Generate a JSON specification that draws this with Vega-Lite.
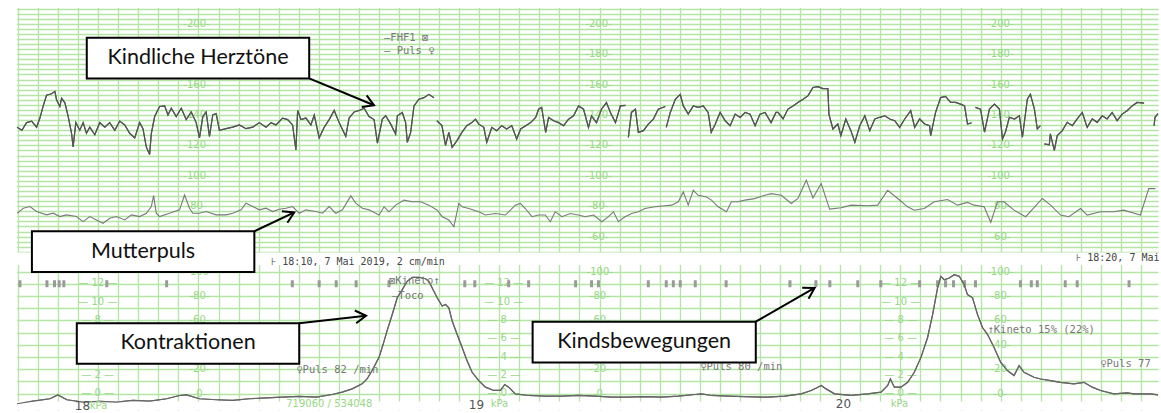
{
"$schema": "https://vega.github.io/schema/vega-lite/v6.json",
"width": 1161, "height": 413, "padding": 0,
"autosize": {"type": "fit", "contains": "padding"},
"background": "#ffffff",
"config": {"view": {"stroke": null}, "axis": {"labels": false, "ticks": false, "domain": false, "grid": true, "gridColor": "#b3e6a5", "gridWidth": 1.3, "gridOpacity": 1, "minExtent": 0, "maxExtent": 0}},
"datasets": {
"fhr": [{"t":12.8,"v":132},{"t":16.5,"v":130},{"t":20,"v":135},{"t":23.8,"v":136},{"t":27.5,"v":132},{"t":30,"v":138},{"t":32.5,"v":146},{"t":35,"v":153},{"t":38.8,"v":154},{"t":41.3,"v":155.5},{"t":42.5,"v":150},{"t":45,"v":145.6},{"t":46.3,"v":151},{"t":48.8,"v":148},{"t":51.3,"v":139},{"t":53.8,"v":128},{"t":55,"v":119},{"t":57,"v":135},{"t":60,"v":130},{"t":62.5,"v":135},{"t":65,"v":128},{"t":67.5,"v":132},{"t":71.3,"v":127},{"t":75,"v":135},{"t":78.8,"v":132},{"t":82.5,"v":135},{"t":86.3,"v":130},{"t":90,"v":136},{"t":93.8,"v":133.5},{"t":97.5,"v":128},{"t":101.3,"v":125},{"t":105,"v":135},{"t":107.5,"v":131},{"t":110,"v":119},{"t":112.5,"v":114},{"t":113.8,"v":128},{"t":116.3,"v":139},{"t":120,"v":145.6},{"t":123.8,"v":146},{"t":126.3,"v":140},{"t":128.8,"v":144.5},{"t":132.5,"v":139},{"t":136.3,"v":144.5},{"t":140,"v":137},{"t":143.8,"v":142},{"t":147.5,"v":135},{"t":150,"v":125},{"t":152.5,"v":139},{"t":155,"v":142},{"t":157.5,"v":126},{"t":160,"v":140},{"t":162.5,"v":141},{"t":165,"v":130},{"t":170,"v":131},{"t":175,"v":132},{"t":180,"v":133.5},{"t":185,"v":131},{"t":190,"v":132},{"t":195,"v":135},{"t":200,"v":132},{"t":203.8,"v":135},{"t":207.5,"v":133.5},{"t":212.5,"v":138},{"t":216.3,"v":137},{"t":220,"v":133.5},{"t":222.5,"v":117},{"t":223.8,"v":143},{"t":226.3,"v":137},{"t":230,"v":138},{"t":233.8,"v":133.5},{"t":236.3,"v":140},{"t":240,"v":125},{"t":243.8,"v":132},{"t":247.5,"v":137},{"t":251.3,"v":143},{"t":255,"v":135},{"t":260,"v":126},{"t":262.5,"v":138},{"t":266.3,"v":142},{"t":270,"v":143},{"t":273.8,"v":144.5},{"t":277.5,"v":139},{"t":281.3,"v":137},{"t":283.8,"v":121.5},{"t":287.5,"v":137.3},{"t":290,"v":139.5},{"t":293.8,"v":134},{"t":297.5,"v":127.5},{"t":298.8,"v":139.5},{"t":302.5,"v":141.7},{"t":305,"v":135},{"t":306.3,"v":122},{"t":308.8,"v":128.6},{"t":311.3,"v":146},{"t":315,"v":150.4},{"t":318.8,"v":151.4},{"t":322.5,"v":153.6},{"t":326.3,"v":151.4},{"t":327,"v":null},{"t":328.5,"v":136.2},{"t":332.3,"v":133},{"t":335,"v":120},{"t":337.5,"v":128.6},{"t":340,"v":118.8},{"t":343.5,"v":123},{"t":347.3,"v":128.6},{"t":351,"v":133},{"t":354.8,"v":135},{"t":357.5,"v":137.3},{"t":360,"v":134},{"t":363.8,"v":131.9},{"t":366,"v":122},{"t":369.8,"v":131.9},{"t":373.5,"v":129.7},{"t":377.3,"v":133},{"t":381,"v":130.8},{"t":384.8,"v":133},{"t":388.5,"v":124.2},{"t":391.5,"v":130.8},{"t":395.3,"v":133},{"t":399,"v":135},{"t":402.8,"v":138.4},{"t":405,"v":143.8},{"t":407.3,"v":145},{"t":410.3,"v":128.6},{"t":412.5,"v":138.4},{"t":416.3,"v":136.2},{"t":420,"v":135},{"t":423.8,"v":133},{"t":427.5,"v":137.3},{"t":431.3,"v":139.5},{"t":435,"v":146},{"t":438.8,"v":143.8},{"t":442.5,"v":131.9},{"t":444.8,"v":139.5},{"t":448.5,"v":135},{"t":452.3,"v":143.8},{"t":456,"v":148.2},{"t":459,"v":141.7},{"t":462.8,"v":135},{"t":466.5,"v":146},{"t":470.3,"v":146.4},{"t":471.4,"v":null},{"t":472.5,"v":125.3},{"t":474.8,"v":141.7},{"t":477.8,"v":143.8},{"t":480,"v":128.6},{"t":483.8,"v":129.7},{"t":487.5,"v":134},{"t":491.3,"v":137.3},{"t":495,"v":143.8},{"t":500.3,"v":145.6},{"t":500.6,"v":null},{"t":501,"v":131.9},{"t":504,"v":141.7},{"t":507.8,"v":150.4},{"t":511.5,"v":153.6},{"t":513.8,"v":146},{"t":517.5,"v":140.6},{"t":521.3,"v":146},{"t":525,"v":145},{"t":528.8,"v":146},{"t":532.5,"v":141.7},{"t":534.8,"v":128.6},{"t":537.8,"v":134},{"t":541.5,"v":141.7},{"t":545.3,"v":136.2},{"t":549,"v":133},{"t":552.8,"v":140.6},{"t":556.5,"v":138.4},{"t":560.3,"v":141.7},{"t":564,"v":140.6},{"t":567.8,"v":133},{"t":571.5,"v":140.6},{"t":575.3,"v":141.7},{"t":579.8,"v":135},{"t":583.5,"v":141.7},{"t":585,"v":141.7},{"t":588.8,"v":137.4},{"t":592.5,"v":143.9},{"t":596.3,"v":146},{"t":600,"v":148.3},{"t":603.8,"v":150.4},{"t":607.5,"v":152.6},{"t":611.3,"v":158.1},{"t":615,"v":158.7},{"t":618.8,"v":157.4},{"t":622.5,"v":157.4},{"t":623.3,"v":140.6},{"t":626.3,"v":130.8},{"t":630,"v":134.1},{"t":632.3,"v":126.5},{"t":636,"v":137.4},{"t":639.8,"v":129.7},{"t":642.8,"v":122.1},{"t":646.5,"v":133},{"t":650.3,"v":139.5},{"t":654,"v":129.7},{"t":657.8,"v":137.4},{"t":661.5,"v":138.5},{"t":665.3,"v":139.5},{"t":669,"v":137.4},{"t":672.8,"v":136.3},{"t":676.5,"v":131.9},{"t":680.3,"v":137.4},{"t":684.8,"v":142.8},{"t":687.8,"v":131.9},{"t":691.5,"v":137.4},{"t":695.3,"v":134.1},{"t":699,"v":133},{"t":699.8,"v":126.5},{"t":703.5,"v":141.7},{"t":707.3,"v":151.5},{"t":711,"v":152.2},{"t":714.8,"v":148.3},{"t":718.5,"v":148.3},{"t":722.3,"v":147.2},{"t":725.3,"v":146},{"t":727.5,"v":134.1},{"t":730.5,"v":134.8},{"t":732,"v":null},{"t":733.5,"v":145},{"t":737.3,"v":143.9},{"t":740.3,"v":128.7},{"t":744,"v":143.9},{"t":747.8,"v":147.2},{"t":751.5,"v":143.9},{"t":753.8,"v":124.3},{"t":756,"v":128.7},{"t":759,"v":138.5},{"t":762.8,"v":137.4},{"t":766.5,"v":139.5},{"t":768.8,"v":125.4},{"t":772.5,"v":150.4},{"t":774.8,"v":153.7},{"t":777.8,"v":143.9},{"t":780,"v":130.8},{"t":782.3,"v":133},{"t":783.8,"v":null},{"t":785.3,"v":121},{"t":789,"v":120.4},{"t":789.8,"v":127.6},{"t":792.8,"v":116.7},{"t":795,"v":126.5},{"t":798.8,"v":129.7},{"t":802.5,"v":135.2},{"t":806.3,"v":133},{"t":810,"v":137.4},{"t":813.8,"v":141.7},{"t":817.5,"v":131.9},{"t":821.3,"v":137.4},{"t":825,"v":135.2},{"t":828.8,"v":139.5},{"t":832.5,"v":137.4},{"t":836.3,"v":141.7},{"t":840,"v":136.3},{"t":843.8,"v":140.6},{"t":847.5,"v":142.8},{"t":851.3,"v":146},{"t":855,"v":148.3},{"t":860.3,"v":147.8},{"t":864,"v":null},{"t":867.8,"v":133},{"t":868.5,"v":138.5},{"t":870.75,"v":141}],
"puls": [{"t":13,"v":75.4},{"t":17.5,"v":78.7},{"t":22.5,"v":79.8},{"t":27.5,"v":76.5},{"t":35,"v":74.3},{"t":40,"v":75.4},{"t":45,"v":73.2},{"t":50,"v":74.3},{"t":57.5,"v":73.2},{"t":62.5,"v":69.9},{"t":67.5,"v":73.2},{"t":72.5,"v":71},{"t":77.5,"v":68.8},{"t":82.5,"v":72.1},{"t":87.5,"v":73.2},{"t":93.8,"v":71},{"t":98.8,"v":74.3},{"t":105,"v":73.2},{"t":110,"v":75.4},{"t":113.8,"v":79.8},{"t":115.5,"v":87},{"t":117.5,"v":75.4},{"t":120,"v":73.2},{"t":127.5,"v":75.4},{"t":135,"v":77.6},{"t":138.8,"v":87.4},{"t":142.5,"v":78.7},{"t":145,"v":75.4},{"t":150,"v":75.4},{"t":155,"v":76.5},{"t":162.5,"v":74.3},{"t":170,"v":74.3},{"t":175,"v":75.4},{"t":181.3,"v":77.6},{"t":185,"v":82},{"t":190,"v":79.8},{"t":195,"v":77.6},{"t":200,"v":78.7},{"t":205,"v":76.5},{"t":210,"v":78},{"t":215,"v":78.7},{"t":220,"v":79.8},{"t":225,"v":75.4},{"t":230,"v":77.6},{"t":237.5,"v":76.5},{"t":242.5,"v":75.4},{"t":247.5,"v":79.8},{"t":252.5,"v":75.4},{"t":257.5,"v":77.6},{"t":263.8,"v":86.8},{"t":267.5,"v":82},{"t":272.5,"v":78.7},{"t":277.5,"v":77.6},{"t":285,"v":74.2},{"t":288.8,"v":79.6},{"t":292.5,"v":76.3},{"t":297.5,"v":80.7},{"t":303.8,"v":84},{"t":310,"v":82.9},{"t":316.3,"v":82.9},{"t":322.5,"v":80.7},{"t":328.8,"v":77.4},{"t":332.5,"v":73.1},{"t":337.5,"v":70.9},{"t":341.3,"v":66.5},{"t":345,"v":81.8},{"t":347.5,"v":79.6},{"t":352.5,"v":78.5},{"t":360,"v":76.3},{"t":365,"v":74.2},{"t":372.5,"v":75.2},{"t":380,"v":74.2},{"t":387.5,"v":80.7},{"t":391.3,"v":81.8},{"t":395,"v":78.5},{"t":400,"v":73.1},{"t":405,"v":74.2},{"t":410,"v":74.2},{"t":413.8,"v":69.8},{"t":417.5,"v":76.3},{"t":422.5,"v":73.1},{"t":428.8,"v":75.2},{"t":435,"v":74.2},{"t":440,"v":73.1},{"t":446.3,"v":74.2},{"t":452.5,"v":69.8},{"t":457.5,"v":73.1},{"t":461.3,"v":76.3},{"t":465,"v":69.8},{"t":470,"v":73.1},{"t":475,"v":75.2},{"t":480,"v":76.3},{"t":485,"v":78.5},{"t":492.5,"v":79.6},{"t":500,"v":80.3},{"t":505,"v":80.7},{"t":510,"v":82.9},{"t":513.8,"v":89.4},{"t":517.5,"v":80.7},{"t":521.3,"v":90.5},{"t":525,"v":87.2},{"t":531.3,"v":86.1},{"t":535,"v":84},{"t":540,"v":79.6},{"t":546.3,"v":76.3},{"t":550,"v":82.9},{"t":555,"v":82.9},{"t":560,"v":84},{"t":567.5,"v":85},{"t":575,"v":87.2},{"t":580,"v":88.3},{"t":587.5,"v":87.2},{"t":595,"v":81.8},{"t":600,"v":85.1},{"t":606.3,"v":97.1},{"t":611.3,"v":85.5},{"t":617.5,"v":94.9},{"t":623.8,"v":78.1},{"t":632.5,"v":79},{"t":640,"v":80.7},{"t":652.5,"v":80.3},{"t":660,"v":80.7},{"t":667.5,"v":90.5},{"t":675,"v":85.1},{"t":682.5,"v":79.6},{"t":687.5,"v":77.4},{"t":695,"v":78.5},{"t":702.5,"v":82.9},{"t":712.5,"v":84.4},{"t":720,"v":80.7},{"t":727.5,"v":82.5},{"t":732.5,"v":80.7},{"t":740,"v":79.6},{"t":745,"v":69.4},{"t":750,"v":82.9},{"t":755,"v":82.9},{"t":762.5,"v":77.4},{"t":771.3,"v":73.1},{"t":777.5,"v":79},{"t":783.8,"v":85.1},{"t":790,"v":80.7},{"t":797.5,"v":74.2},{"t":803.8,"v":73.1},{"t":812.5,"v":78.5},{"t":817.5,"v":74.2},{"t":827.5,"v":76.4},{"t":837.5,"v":76.4},{"t":845,"v":77.4},{"t":857.5,"v":74.2},{"t":863.8,"v":91.6},{"t":868.8,"v":91.6}],
"toco": [{"t":12.8,"v":-8.3},{"t":24.8,"v":-6.1},{"t":37.5,"v":-4.2},{"t":43.5,"v":-1},{"t":50.3,"v":-5},{"t":62.3,"v":-6.9},{"t":75,"v":-6.3},{"t":87.8,"v":-6.9},{"t":99.8,"v":-5.5},{"t":112.5,"v":-6.1},{"t":125.3,"v":-4.2},{"t":135,"v":-1.5},{"t":140.3,"v":-1},{"t":150,"v":-4.2},{"t":162.8,"v":-5},{"t":174.8,"v":-5.5},{"t":187.5,"v":-4.2},{"t":200.3,"v":-3.4},{"t":212.3,"v":-2.8},{"t":225,"v":-2.3},{"t":237.8,"v":-2.8},{"t":249.8,"v":-0.7},{"t":257.3,"v":1.2},{"t":264.8,"v":3.9},{"t":272.3,"v":8},{"t":276,"v":12},{"t":279.8,"v":18.9},{"t":285,"v":29.7},{"t":288,"v":40},{"t":291.2,"v":52},{"t":295,"v":65},{"t":298.7,"v":78.5},{"t":302.5,"v":85.2},{"t":306.2,"v":92},{"t":310,"v":95.3},{"t":315,"v":95.3},{"t":320,"v":94.1},{"t":322.5,"v":92},{"t":325,"v":86.6},{"t":328.7,"v":78.5},{"t":332.5,"v":71.7},{"t":335,"v":73},{"t":337.5,"v":70.3},{"t":340,"v":59.5},{"t":343.7,"v":48.6},{"t":347.5,"v":37.8},{"t":351.2,"v":27},{"t":355,"v":17.5},{"t":360,"v":10.7},{"t":365,"v":5.3},{"t":371.3,"v":2.6},{"t":376.3,"v":2.6},{"t":379.5,"v":7.5},{"t":382.5,"v":5.3},{"t":387.5,"v":-0.2},{"t":397.5,"v":-1.5},{"t":410,"v":-2},{"t":422.5,"v":-2},{"t":435,"v":-1.5},{"t":447.5,"v":-2},{"t":460,"v":-2.8},{"t":472.5,"v":-2.8},{"t":485,"v":-2.4},{"t":497.5,"v":-2.8},{"t":510,"v":-2},{"t":522.5,"v":-0.7},{"t":527.5,"v":-0.2},{"t":535,"v":-1.5},{"t":547.5,"v":-2},{"t":560,"v":-2.4},{"t":572.5,"v":-2.8},{"t":577.5,"v":-2.8},{"t":590,"v":-2},{"t":602.5,"v":-0.2},{"t":610,"v":2.6},{"t":615,"v":5.3},{"t":617.5,"v":6.7},{"t":621.2,"v":3.9},{"t":627.5,"v":-0.2},{"t":640,"v":-1.5},{"t":652.5,"v":-0.2},{"t":662.5,"v":1.2},{"t":667.5,"v":6.7},{"t":669.5,"v":12},{"t":672.5,"v":5.3},{"t":677.5,"v":5.3},{"t":682.5,"v":9.3},{"t":687.5,"v":17.5},{"t":692.5,"v":29.7},{"t":697.5,"v":46},{"t":701.3,"v":64.9},{"t":705,"v":86.6},{"t":707.5,"v":96.1},{"t":710,"v":93.3},{"t":713.8,"v":94.7},{"t":717.5,"v":97.4},{"t":721.3,"v":96.1},{"t":725,"v":89.3},{"t":727.5,"v":81.1},{"t":731.3,"v":78.5},{"t":735,"v":64.9},{"t":738.8,"v":54.1},{"t":742.5,"v":48.6},{"t":747.5,"v":37.8},{"t":752.5,"v":25.6},{"t":757.5,"v":18.9},{"t":762.5,"v":14.8},{"t":766.3,"v":22.9},{"t":770,"v":17.5},{"t":777.5,"v":13.4},{"t":782.5,"v":12},{"t":790,"v":10.7},{"t":797.5,"v":9.3},{"t":807.5,"v":8},{"t":815,"v":9.3},{"t":821.3,"v":5.3},{"t":827.5,"v":2.6},{"t":837.5,"v":-0.2},{"t":847.5,"v":0.7},{"t":852.5,"v":-0.2},{"t":865,"v":-0.2},{"t":870.75,"v":-1}],
"moves": [{"t":15},{"t":35.3},{"t":41},{"t":44.5},{"t":48},{"t":80.3},{"t":125.3},{"t":219.8},{"t":240},{"t":252.8},{"t":267.8},{"t":292.5},{"t":349.5},{"t":357},{"t":382.5},{"t":397.5},{"t":432.8},{"t":444.8},{"t":450},{"t":487.5},{"t":501},{"t":506.3},{"t":511.5},{"t":522.8},{"t":546},{"t":594},{"t":613.5},{"t":624},{"t":645},{"t":662.3},{"t":691.5},{"t":705},{"t":711},{"t":717},{"t":725.3},{"t":733.5},{"t":767.3},{"t":775.5},{"t":780},{"t":801},{"t":810},{"t":849}],
"spanAll": [{"t":0,"t2":870.75}],
"spanLead": [{"t":0,"t2":12.9}],
"fhrLab": [{"t":147.75,"v":200,"txt":"-200-"},{"t":147.75,"v":160,"txt":"-160-"},{"t":147.75,"v":140,"txt":"-140-"},{"t":147.75,"v":120,"txt":"-120-"},{"t":147.75,"v":100,"txt":"-100-"},{"t":147.75,"v":80,"txt":"-80-"},{"t":450,"v":200,"txt":"-200-"},{"t":450,"v":180,"txt":"-180-"},{"t":450,"v":160,"txt":"-160-"},{"t":450,"v":140,"txt":"-140-"},{"t":450,"v":120,"txt":"-120-"},{"t":450,"v":100,"txt":"-100-"},{"t":450,"v":80,"txt":"-80-"},{"t":450,"v":60,"txt":"-60-"},{"t":752.25,"v":200,"txt":"-200-"},{"t":752.25,"v":180,"txt":"-180-"},{"t":752.25,"v":160,"txt":"-160-"},{"t":752.25,"v":140,"txt":"-140-"},{"t":752.25,"v":120,"txt":"-120-"},{"t":752.25,"v":100,"txt":"-100-"},{"t":752.25,"v":80,"txt":"-80-"},{"t":752.25,"v":60,"txt":"-60-"}],
"tocoLab": [{"t":150,"v":100,"txt":"-100-"},{"t":150,"v":80,"txt":"-80-"},{"t":150,"v":60,"txt":"-60-"},{"t":150,"v":20,"txt":"-20-"},{"t":150,"v":0,"txt":"-0-"},{"t":451,"v":100,"txt":"-100-"},{"t":451,"v":80,"txt":"-80-"},{"t":451,"v":60,"txt":"-60-"},{"t":451,"v":20,"txt":"-20-"},{"t":451,"v":0,"txt":"-0-"},{"t":752.25,"v":100,"txt":"-100-"},{"t":752.25,"v":80,"txt":"-80-"},{"t":752.25,"v":60,"txt":"-60-"},{"t":752.25,"v":40,"txt":"-40-"},{"t":752.25,"v":20,"txt":"-20-"},{"t":752.25,"v":0,"txt":"-0-"}],
"kpaLab": [{"t":73.5,"v":12,"txt":"— 12 —"},{"t":73.5,"v":10,"txt":"— 10 —"},{"t":73.5,"v":8,"txt":"— 8 —"},{"t":73.5,"v":2,"txt":"— 2 —"},{"t":73.5,"v":0,"txt":"— 0 —"},{"t":378.75,"v":12,"txt":"— 12 —"},{"t":378.75,"v":10,"txt":"— 10 —"},{"t":378.75,"v":8,"txt":"— 8 —"},{"t":378.75,"v":6,"txt":"— 6 —"},{"t":378.75,"v":4,"txt":"— 4 —"},{"t":378.75,"v":2,"txt":"— 2 —"},{"t":378.75,"v":0,"txt":"— 0 —"},{"t":677.25,"v":12,"txt":"— 12 —"},{"t":677.25,"v":10,"txt":"— 10 —"},{"t":677.25,"v":8,"txt":"— 8 —"},{"t":677.25,"v":6,"txt":"— 6 —"},{"t":677.25,"v":4,"txt":"— 4 —"},{"t":677.25,"v":2,"txt":"— 2 —"},{"t":677.25,"v":0,"txt":"— 0 —"}],
"fhrNotes": [{"t":288.75,"v":191,"txt":"—FHF1 ⊠"},{"t":288.75,"v":182.4,"txt":"— Puls ♀"}],
"stamps": [{"t":204,"v":43.4,"txt":"⊦ 18:10, 7 Mai 2019, 2 cm/min"},{"t":809.25,"v":45.8,"txt":"⊦ 18:20, 7 Mai"}],
"tocoNotes": [{"t":222.75,"v":19.3,"txt":"♀Puls 82 /min"},{"t":526.5,"v":22,"txt":"♀Puls 80 /min"},{"t":827.25,"v":24,"txt":"♀Puls 77"},{"t":742.5,"v":52,"txt":"↑Kineto 15% (22%)"},{"t":294.75,"v":79.8,"txt":"—Toco"},{"t":292.5,"v":92.3,"txt":"⊠Kineto↑"}],
"pages": [{"t":56.25,"v":-10.5,"txt":"18"},{"t":352.5,"v":-9.3,"txt":"19"},{"t":628.5,"v":-8.5,"txt":"20"}],
"pageUnits": [{"t":67.5,"v":-10.5,"txt":"kPa"},{"t":369,"v":-8.6,"txt":"kPa"},{"t":669.75,"v":-8.6,"txt":"kPa"},{"t":215.25,"v":-8.1,"txt":"719060 / 534048"}],
"fhrBoxes": [{"label":"Kindliche Herztöne","t":65.25,"t2":232.5,"v":190.9,"v2":164.1,"tc":148.9,"vc":177.5},{"label":"Mutterpuls","t":24,"t2":191.25,"v":63.5,"v2":36.7,"tc":107.6,"vc":50.1}],
"fhrArrows": [{"label":"Kindliche Herztöne","t":232.5,"v":164.1,"t2":281.25,"v2":146.4},{"label":"Mutterpuls","t":191.25,"v":63.5,"t2":221.25,"v2":75.9}],
"tocoBoxes": [{"label":"Kontraktionen","t":57.75,"t2":225,"v":57.7,"v2":24.4,"tc":141.4,"vc":41.1},{"label":"Kindsbewegungen","t":400.5,"t2":568.3,"v":58.9,"v2":25.6,"tc":484.4,"vc":42.3}],
"tocoArrows": [{"label":"Kontraktionen","t":225,"v":57.7,"t2":275.25,"v2":63.8},{"label":"Kindsbewegungen","t":568.3,"v":58.9,"t2":612.5,"v2":86.6}]
},
"encoding": {"x": {"field": "t", "type": "quantitative", "scale": {"domain": [0, 870.75], "nice": false, "zero": false}, "axis": {"title": null, "grid": true, "values": [13.5,28.6,43.7,58.7,73.8,88.9,104,119.1,134.1,149.2,164.3,179.4,194.5,209.5,224.6,239.7,254.8,269.9,284.9,300,315.1,330.2,345.3,360.3,375.4,390.5,405.6,420.7,435.7,450.8,465.9,481,496.1,511.1,526.2,541.3,556.4,571.5,586.5,601.6,616.7,631.8,646.9,661.9,677,692.1,707.2,722.3,737.3,752.4,767.5,782.6,797.7,812.7,827.8,842.9,858]}}},
"layer": [
 {"data": {"name": "toco"}, "mark": {"type": "line", "color": "#666666", "strokeWidth": 1.2},
  "encoding": {"y": {"field": "v", "type": "quantitative", "scale": {"domain": [-13.4, 322.4], "nice": false, "zero": false}, "axis": {"title": null, "grid": true, "orient": "right", "values": [0,10,20,30,40,50,60,70,80,90,100]}}}},
 {"data": {"name": "fhr"}, "mark": {"type": "line", "color": "#555555", "strokeWidth": 1.2},
  "encoding": {"y": {"field": "v", "type": "quantitative", "scale": {"domain": [-54.08, 215.68], "nice": false, "zero": false}, "axis": {"title": null, "grid": true, "orient": "left", "values": [50,53.33,56.67,60,63.33,66.67,70,73.33,76.67,80,83.33,86.67,90,93.33,96.67,100,103.33,106.67,110,113.33,116.67,120,123.33,126.67,130,133.33,136.67,140,143.33,146.67,150,153.33,156.67,160,163.33,166.67,170,173.33,176.67,180,183.33,186.67,190,193.33,196.67,200,203.33,206.67,210]}}}},
 {"data": {"name": "spanLead"}, "mark": {"type": "rect", "fill": "#ffffff"}, "encoding": {"x2": {"field": "t2"}}},
 {"data": {"name": "spanAll"}, "mark": {"type": "rect", "fill": "#ffffff"}, "encoding": {"x2": {"field": "t2"}, "y": {"datum": 210.4, "type": "quantitative", "scale": {"domain": [-54.08, 215.68], "nice": false, "zero": false}, "axis": null}, "y2": {"datum": 215.68}}},
 {"data": {"name": "spanAll"}, "mark": {"type": "rect", "fill": "#ffffff"}, "encoding": {"x2": {"field": "t2"}, "y": {"datum": 41.3, "type": "quantitative", "scale": {"domain": [-54.08, 215.68], "nice": false, "zero": false}, "axis": null}, "y2": {"datum": 49.6}}},
 {"data": {"name": "spanAll"}, "mark": {"type": "rect", "fill": "#ffffff"}, "encoding": {"x2": {"field": "t2"}, "y": {"datum": -6.5, "type": "quantitative", "scale": {"domain": [-13.4, 322.4], "nice": false, "zero": false}, "axis": null}, "y2": {"datum": -13.4}}},
 {"data": {"name": "kpaLab"}, "mark": {"type": "text", "font": "DejaVu Sans", "fontSize": 10, "color": "#98d785", "align": "center", "baseline": "middle"},
  "encoding": {"y": {"field": "v", "type": "quantitative", "scale": {"domain": [-1.81, 42.94], "nice": false, "zero": false}, "axis": null}, "text": {"field": "txt"}}},
 {"data": {"name": "tocoLab"}, "mark": {"type": "text", "font": "DejaVu Sans", "fontSize": 10, "color": "#98d785", "align": "center", "baseline": "middle"},
  "encoding": {"y": {"field": "v", "type": "quantitative", "scale": {"domain": [-13.4, 322.4], "nice": false, "zero": false}, "axis": null}, "text": {"field": "txt"}}},
 {"data": {"name": "fhrLab"}, "mark": {"type": "text", "font": "DejaVu Sans", "fontSize": 10, "color": "#98d785", "align": "center", "baseline": "middle"},
  "encoding": {"y": {"field": "v", "type": "quantitative", "scale": {"domain": [-54.08, 215.68], "nice": false, "zero": false}, "axis": null}, "text": {"field": "txt"}}},
 {"data": {"name": "moves"}, "mark": {"type": "tick", "orient": "vertical", "color": "#9a9a9a", "size": 7, "thickness": 3, "opacity": 1},
  "encoding": {"y": {"datum": 90, "type": "quantitative", "scale": {"domain": [-13.4, 322.4], "nice": false, "zero": false}, "axis": null}}},
 {"data": {"name": "toco"}, "mark": {"type": "line", "color": "#666666", "strokeWidth": 1.2},
  "encoding": {"y": {"field": "v", "type": "quantitative", "scale": {"domain": [-13.4, 322.4], "nice": false, "zero": false}, "axis": null}}},
 {"data": {"name": "puls"}, "mark": {"type": "line", "color": "#7a7a7a", "strokeWidth": 1.1},
  "encoding": {"y": {"field": "v", "type": "quantitative", "scale": {"domain": [-54.08, 215.68], "nice": false, "zero": false}, "axis": null}}},
 {"data": {"name": "fhr"}, "mark": {"type": "line", "color": "#555555", "strokeWidth": 1.2},
  "encoding": {"y": {"field": "v", "type": "quantitative", "scale": {"domain": [-54.08, 215.68], "nice": false, "zero": false}, "axis": null}}},
 {"data": {"name": "fhrNotes"}, "mark": {"type": "text", "font": "DejaVu Sans Mono", "fontSize": 10.5, "color": "#777777", "align": "left", "baseline": "middle"},
  "encoding": {"y": {"field": "v", "type": "quantitative", "scale": {"domain": [-54.08, 215.68], "nice": false, "zero": false}, "axis": null}, "text": {"field": "txt"}}},
 {"data": {"name": "stamps"}, "mark": {"type": "text", "font": "DejaVu Sans Mono", "fontSize": 10, "color": "#444444", "align": "left", "baseline": "middle"},
  "encoding": {"y": {"field": "v", "type": "quantitative", "scale": {"domain": [-54.08, 215.68], "nice": false, "zero": false}, "axis": null}, "text": {"field": "txt"}}},
 {"data": {"name": "tocoNotes"}, "mark": {"type": "text", "font": "DejaVu Sans Mono", "fontSize": 10.5, "color": "#777777", "align": "left", "baseline": "middle"},
  "encoding": {"y": {"field": "v", "type": "quantitative", "scale": {"domain": [-13.4, 322.4], "nice": false, "zero": false}, "axis": null}, "text": {"field": "txt"}}},
 {"data": {"name": "pages"}, "mark": {"type": "text", "font": "DejaVu Sans", "fontSize": 12, "color": "#555555", "align": "left", "baseline": "middle"},
  "encoding": {"y": {"field": "v", "type": "quantitative", "scale": {"domain": [-13.4, 322.4], "nice": false, "zero": false}, "axis": null}, "text": {"field": "txt"}}},
 {"data": {"name": "pageUnits"}, "mark": {"type": "text", "font": "DejaVu Sans", "fontSize": 10, "color": "#98d785", "align": "left", "baseline": "middle"},
  "encoding": {"y": {"field": "v", "type": "quantitative", "scale": {"domain": [-13.4, 322.4], "nice": false, "zero": false}, "axis": null}, "text": {"field": "txt"}}},
 {"data": {"name": "fhrBoxes"}, "mark": {"type": "rect", "fill": "#ffffff", "stroke": "#000000", "strokeWidth": 2},
  "encoding": {"x2": {"field": "t2"}, "y": {"field": "v", "type": "quantitative", "scale": {"domain": [-54.08, 215.68], "nice": false, "zero": false}, "axis": null}, "y2": {"field": "v2"}}},
 {"data": {"name": "tocoBoxes"}, "mark": {"type": "rect", "fill": "#ffffff", "stroke": "#000000", "strokeWidth": 2},
  "encoding": {"x2": {"field": "t2"}, "y": {"field": "v", "type": "quantitative", "scale": {"domain": [-13.4, 322.4], "nice": false, "zero": false}, "axis": null}, "y2": {"field": "v2"}}},
 {"data": {"name": "fhrBoxes"}, "mark": {"type": "text", "font": "Lato", "fontSize": 21.5, "color": "#111111", "align": "center", "baseline": "middle"},
  "encoding": {"x": {"field": "tc", "type": "quantitative"}, "y": {"field": "vc", "type": "quantitative", "scale": {"domain": [-54.08, 215.68], "nice": false, "zero": false}, "axis": null}, "text": {"field": "label"}}},
 {"data": {"name": "tocoBoxes"}, "mark": {"type": "text", "font": "Lato", "fontSize": 21.5, "color": "#111111", "align": "center", "baseline": "middle"},
  "encoding": {"x": {"field": "tc", "type": "quantitative"}, "y": {"field": "vc", "type": "quantitative", "scale": {"domain": [-13.4, 322.4], "nice": false, "zero": false}, "axis": null}, "text": {"field": "label"}}},
 {"data": {"name": "fhrArrows"}, "mark": {"type": "rule", "color": "#000000", "strokeWidth": 2},
  "encoding": {"x2": {"field": "t2"}, "y": {"field": "v", "type": "quantitative", "scale": {"domain": [-54.08, 215.68], "nice": false, "zero": false}, "axis": null}, "y2": {"field": "v2"}}},
 {"data": {"name": "tocoArrows"}, "mark": {"type": "rule", "color": "#000000", "strokeWidth": 2},
  "encoding": {"x2": {"field": "t2"}, "y": {"field": "v", "type": "quantitative", "scale": {"domain": [-13.4, 322.4], "nice": false, "zero": false}, "axis": null}, "y2": {"field": "v2"}}},
 {"data": {"name": "fhrArrows"}, "transform": [{"filter": "datum.label == 'Kindliche Herztöne'"}], "mark": {"type": "point", "shape": "M-1,-0.6L0,0L-1,0.6", "filled": false, "stroke": "#000000", "strokeWidth": 2, "size": 450, "angle": 22.6, "opacity": 1},
  "encoding": {"x": {"field": "t2", "type": "quantitative"}, "y": {"field": "v2", "type": "quantitative", "scale": {"domain": [-54.08, 215.68], "nice": false, "zero": false}, "axis": null}}},
 {"data": {"name": "fhrArrows"}, "transform": [{"filter": "datum.label == 'Mutterpuls'"}], "mark": {"type": "point", "shape": "M-1,-0.6L0,0L-1,0.6", "filled": false, "stroke": "#000000", "strokeWidth": 2, "size": 450, "angle": 334.6, "opacity": 1},
  "encoding": {"x": {"field": "t2", "type": "quantitative"}, "y": {"field": "v2", "type": "quantitative", "scale": {"domain": [-54.08, 215.68], "nice": false, "zero": false}, "axis": null}}},
 {"data": {"name": "tocoArrows"}, "transform": [{"filter": "datum.label == 'Kontraktionen'"}], "mark": {"type": "point", "shape": "M-1,-0.6L0,0L-1,0.6", "filled": false, "stroke": "#000000", "strokeWidth": 2, "size": 450, "angle": 354, "opacity": 1},
  "encoding": {"x": {"field": "t2", "type": "quantitative"}, "y": {"field": "v2", "type": "quantitative", "scale": {"domain": [-13.4, 322.4], "nice": false, "zero": false}, "axis": null}}},
 {"data": {"name": "tocoArrows"}, "transform": [{"filter": "datum.label == 'Kindsbewegungen'"}], "mark": {"type": "point", "shape": "M-1,-0.6L0,0L-1,0.6", "filled": false, "stroke": "#000000", "strokeWidth": 2, "size": 450, "angle": 330, "opacity": 1},
  "encoding": {"x": {"field": "t2", "type": "quantitative"}, "y": {"field": "v2", "type": "quantitative", "scale": {"domain": [-13.4, 322.4], "nice": false, "zero": false}, "axis": null}}}
],
"resolve": {"scale": {"y": "independent"}, "axis": {"y": "independent"}}
}
